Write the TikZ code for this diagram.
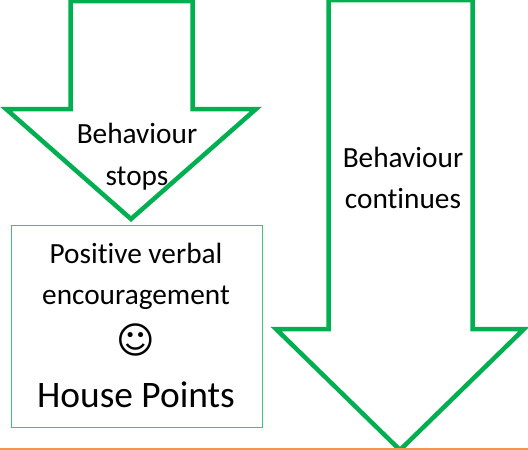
\documentclass[tikz,border=0pt]{standalone}
\usepackage{fontspec}
\setmainfont[Ligatures=CommonOff]{Carlito}
\newfontfamily\symfont{DejaVu Sans}
\definecolor{arrowgreen}{HTML}{00B050}
\definecolor{boxgreen}{HTML}{3CC47C}
\definecolor{rulecolor}{HTML}{F79646}
\tikzset{
  bigarrow/.style={draw=arrowgreen,line width=4.5pt,fill=white,miter limit=10,line join=miter},
  label/.style={inner sep=0pt,anchor=base,text=black,font=\fontsize{29.3}{42}\selectfont},
}
\begin{document}
\begin{tikzpicture}[x=1pt,y=-1pt]
\useasboundingbox (0,0) rectangle (528,450);
\path[fill=white] (0,0) rectangle (528,450);
\draw[bigarrow] (70.5,1) -- (192.5,1) -- (192.5,109) -- (256,109) -- (131,219) -- (6,109) -- (70.5,109) -- cycle;
\draw[bigarrow] (328.5,0) -- (472.5,0) -- (472.5,329) -- (524,329) -- (400,450) -- (276,329) -- (328.5,329) -- cycle;
\node[draw=boxgreen,line width=1.2pt,inner sep=0pt,fill=white,
      minimum width=251pt,minimum height=202pt,anchor=north west] (box) at (11,225) {};
\draw[rulecolor,line width=3.4pt] (0,449.8) -- (528,449.8);
\node[label] (stopsa) at (137,143) {Behaviour};
\node[label] (stopsb) at (137,185) {stops};
\node[label] (conta) at (403,167) {Behaviour};
\node[label] (contb) at (403,208) {continues};
\node[label] (pve1) at (136,263) {Positive verbal};
\node[label] (pve2) at (136,304.5) {encouragement};
\node[inner sep=0pt,font=\symfont\fontsize{37}{37}\selectfont] (smile) at (136,340) {☺};
\node[inner sep=0pt,anchor=base,font=\fontsize{37.4}{40}\selectfont] (hp) at (136,407) {House Points};
\end{tikzpicture}
\end{document}
